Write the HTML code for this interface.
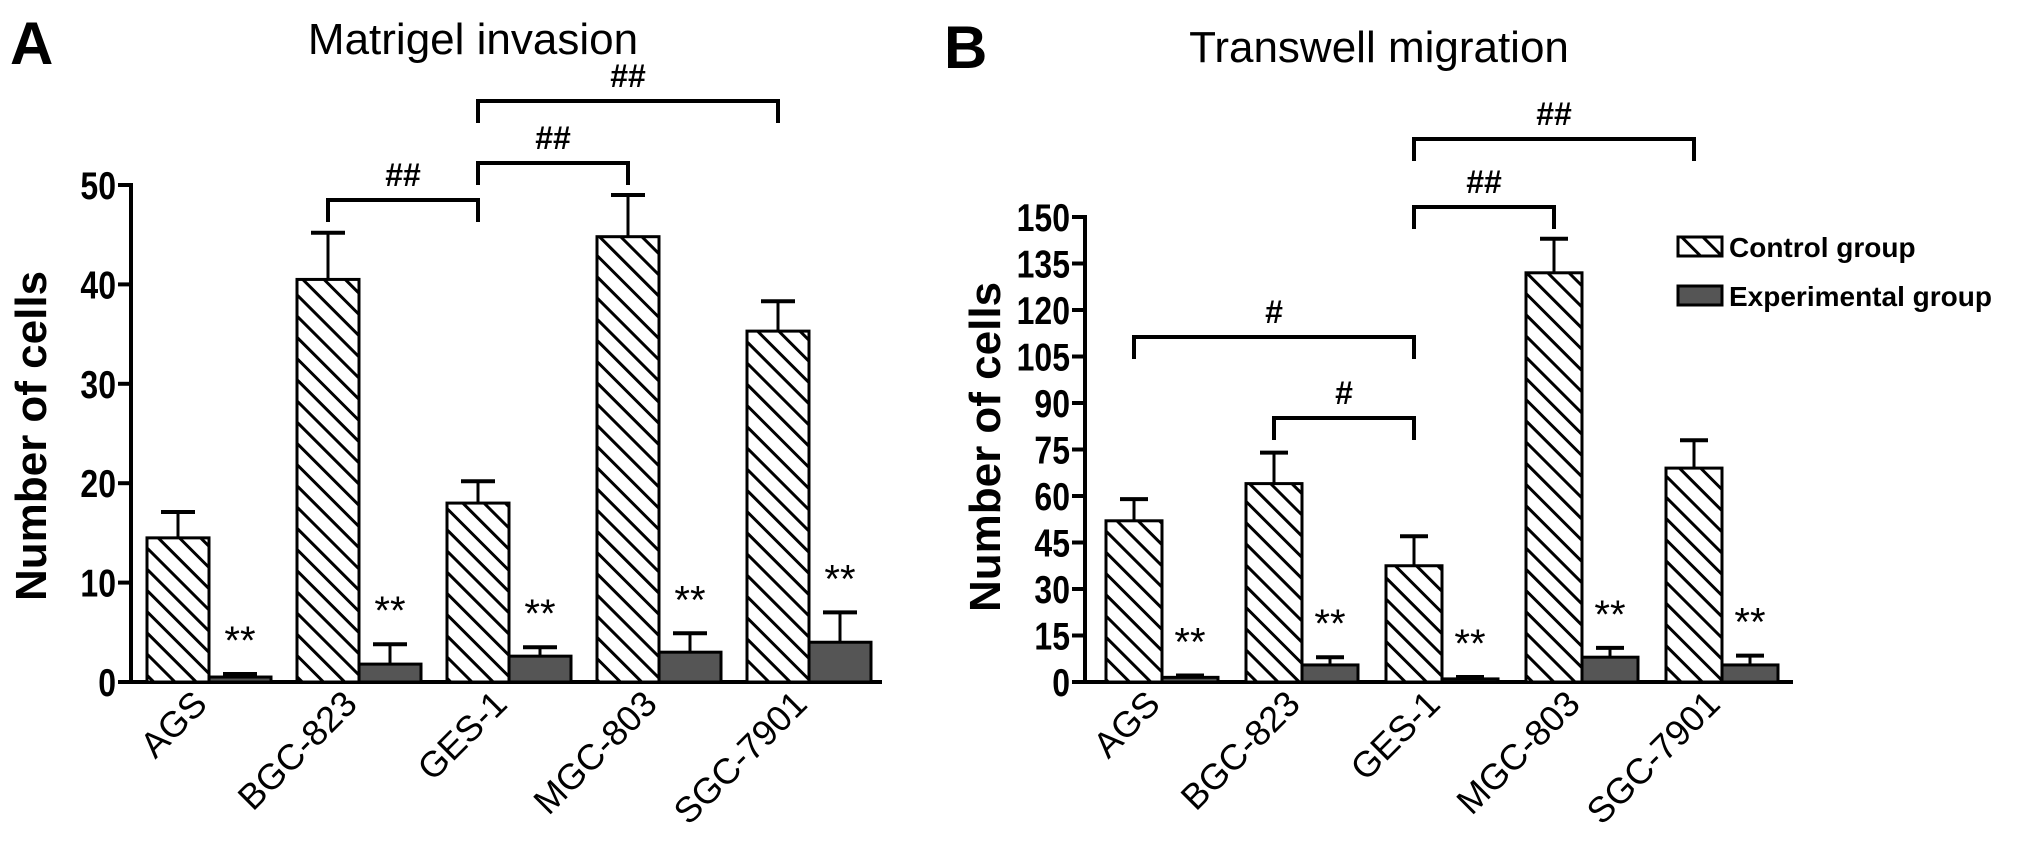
<!DOCTYPE html>
<html><head><meta charset="utf-8">
<style>
body{margin:0;background:#fff;}
svg{display:block;font-family:"Liberation Sans",Arial,sans-serif;}
</style></head>
<body>
<svg id="chart" width="2031" height="855" viewBox="0 0 2031 855">
<defs>
<pattern id="hatch" patternUnits="userSpaceOnUse" width="15" height="15" patternTransform="rotate(-45)">
<rect width="15" height="15" fill="#fff"/>
<line x1="0" y1="0" x2="0" y2="15" stroke="#000" stroke-width="6"/>
</pattern>
</defs>
</svg>
<script>
const categories = ["AGS","BGC-823","GES-1","MGC-803","SGC-7901"];
const aControl = [14.5, 40.5, 18, 44.8, 35.3];
const aControlErr = [2.6, 4.7, 2.2, 4.2, 3.0];
const aExp = [0.5, 1.8, 2.6, 3.0, 4.0];
const aExpErr = [0.3, 2.0, 0.9, 1.9, 3.0];
const aTicks = [0,10,20,30,40,50];
const bControl = [52, 64, 37.5, 132, 69];
const bControlErr = [7, 10, 9.5, 11, 9];
const bExp = [1.5, 5.5, 1, 8, 5.5];
const bExpErr = [0.6, 2.5, 0.6, 3, 3];
const bTicks = [0,15,30,45,60,75,90,105,120,135,150];
const aBrackets = [[1,2,"##"],[2,3,"##"],[2,4,"##"]];
const bBrackets = [[0,2,"#"],[1,2,"#"],[2,3,"##"],[2,4,"##"]];

const svg = document.getElementById('chart');
const NS = "http://www.w3.org/2000/svg";
function mk(tag, attrs, parent, text){
  const e = document.createElementNS(NS, tag);
  for (const k in attrs) e.setAttribute(k, attrs[k]);
  if (text !== undefined) e.textContent = text;
  (parent||svg).appendChild(e);
  return e;
}

function panel(p){
  const g = mk('g', {});
  
  
  const y = v => p.y0 - (v / p.max) * (p.y0 - p.yTop);
  const xc = i => p.x0 + i * p.step;
  const ax = mk('line', {x1:p.axisX, y1:p.yTop-2, x2:p.axisX, y2:p.y0+2, stroke:'#000','stroke-width':4}, g);
  
  
  const bx = mk('line', {x1:p.axisX, y1:p.y0, x2:p.axisEnd, y2:p.y0, stroke:'#000','stroke-width':4}, g);
  
  
  p.ticks.forEach(t => {
    mk('line', {x1:p.axisX-13, y1:y(t), x2:p.axisX, y2:y(t), stroke:'#000','stroke-width':4}, g);
    const tx = p.axisX-15;
    const tl = mk('text', {x:tx, y:y(t)+14, 'text-anchor':'end','font-size':39,'font-weight':'bold', transform:`translate(${tx},0) scale(0.82,1) translate(${-tx},0)`}, g, t);
    
    
  });
  categories.forEach((c, i) => {
    const L = xc(i);
    const vals = [[p.ctrl[i], p.ctrlErr[i], 'url(#hatch)', 'control'], [p.exp[i], p.expErr[i], '#555', 'experimental']];
    vals.forEach((v, j) => {
      const x = L + j * p.w;
      const cx = x + p.w/2;
      mk('line', {x1:cx, y1:y(v[0]), x2:cx, y2:y(v[0]+v[1]), stroke:'#000','stroke-width':3}, g);
      mk('line', {x1:cx-p.cap, y1:y(v[0]+v[1]), x2:cx+p.cap, y2:y(v[0]+v[1]), stroke:'#000','stroke-width':4}, g);
      const r = mk('rect', {x:x, y:y(v[0]), width:p.w, height:p.y0 - y(v[0]), fill:v[2], stroke:'#000','stroke-width':3}, g);
      
      
      if (j === 1) {
        const s = mk('text', {x:cx, y:y(v[0]+v[1]) - 20, 'text-anchor':'middle','font-size':40}, g, '**');
        
        
      }
    });
    const lx = L + p.w, ly = p.y0 + 24;
    const xl = mk('text', {x:lx, y:ly, 'text-anchor':'end','font-size':36, transform:`rotate(-45 ${lx} ${ly})`}, g, c);
    
    
  });
  p.brackets.forEach((b, k) => {
    const x1 = xc(b[0]) + p.w/2, x2 = xc(b[1]) + p.w/2;
    const top = p.brTop[k];
    const br = mk('path', {d:`M${x1} ${top+22} V${top} H${x2} V${top+22}`, fill:'none', stroke:'#000','stroke-width':4}, g);
    
    
    const bt = mk('text', {x:(x1+x2)/2, y:top-14, 'text-anchor':'middle','font-size':32,'font-weight':'bold'}, g, b[2]);
    
    
  });
  const yl = mk('text', {x:p.ylabX, y:p.ylabY, 'text-anchor':'middle','font-size':44,'font-weight':'bold', transform:`rotate(-90 ${p.ylabX} ${p.ylabY})`}, g, 'Number of cells');
  
  
  const ti = mk('text', {x:p.titleX, y:p.titleY, 'text-anchor':'middle','font-size':44}, g, p.title);
  
  
  const pl = mk('text', {x:p.letterX, y:p.letterY, 'font-size':60,'font-weight':'bold'}, g, p.letter);
  
  
}

panel({id:'panel-a', y0:682, yTop:185, max:50, ticks:aTicks, axisX:131, axisEnd:882, x0:147, step:150, w:62, cap:17,
  ctrl:aControl, ctrlErr:aControlErr, exp:aExp, expErr:aExpErr, brackets:aBrackets, brTop:[200,163,101],
  ylabX:46, ylabY:436, title:'Matrigel invasion', titleX:473, titleY:54, letter:'A', letterX:10, letterY:64});
panel({id:'panel-b', y0:682, yTop:217, max:150, ticks:bTicks, axisX:1085, axisEnd:1793, x0:1106, step:140, w:56, cap:14,
  ctrl:bControl, ctrlErr:bControlErr, exp:bExp, expErr:bExpErr, brackets:bBrackets, brTop:[337,418,207,139],
  ylabX:1000, ylabY:447, title:'Transwell migration', titleX:1379, titleY:62, letter:'B', letterX:944, letterY:68});

const lg = mk('g', {});


const l1 = mk('rect', {x:1678, y:237, width:44, height:19, fill:'url(#hatch)', stroke:'#000','stroke-width':3}, lg);


const t1 = mk('text', {x:1729, y:257, 'font-size':28,'font-weight':'bold'}, lg, 'Control group');


const l2 = mk('rect', {x:1678, y:286, width:44, height:19, fill:'#555', stroke:'#000','stroke-width':3}, lg);


const t2 = mk('text', {x:1729, y:306, 'font-size':28,'font-weight':'bold'}, lg, 'Experimental group');


</script>
</body></html>
